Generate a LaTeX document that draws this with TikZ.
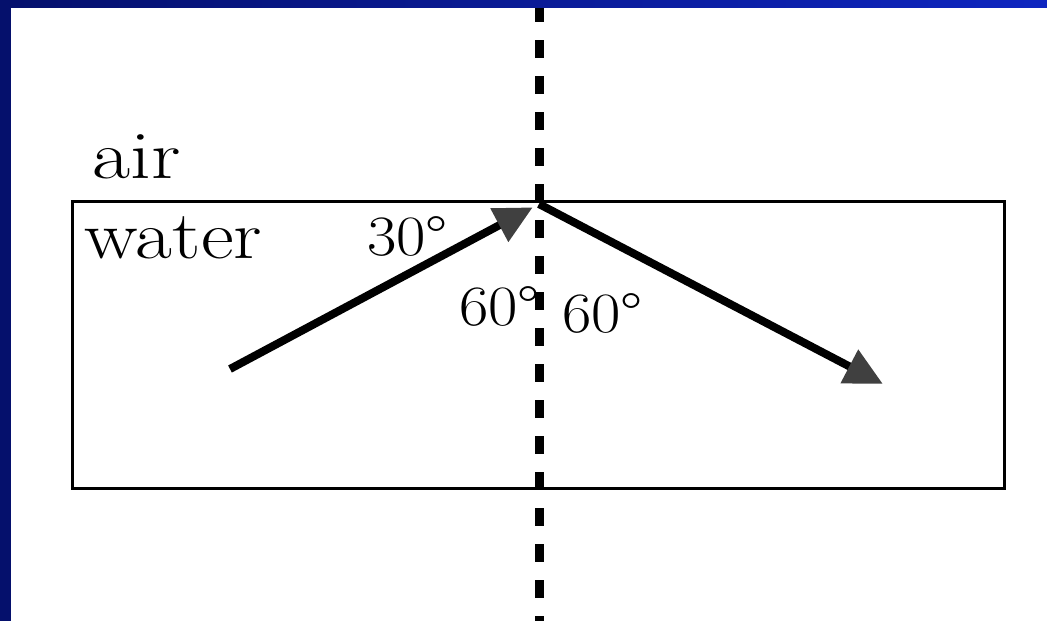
\documentclass[tikz,border=0pt]{standalone}
\usepackage{graphicx}
\usetikzlibrary{arrows.meta}
\definecolor{FrameDark}{HTML}{05106C}
\definecolor{FrameLight}{HTML}{0E26C0}
\definecolor{HeadGrey}{HTML}{404040}
\definecolor{Ink}{HTML}{000000}
\newcommand{\widetext}[2]{\scalebox{#1}[1]{#2}}
\begin{document}
\begin{tikzpicture}[x=1pt,y=-1pt,
    every node/.style={text=Ink,inner sep=0pt,anchor=base west},
    medium/.style={font=\fontsize{68}{72}\selectfont},
    angle/.style={font=\fontsize{57}{60}\selectfont},
    ray/.style={line width=8pt,-{Triangle[length=38pt,width=36pt,color=HeadGrey]}}]
  \useasboundingbox (0,0) rectangle (1047,621);
  \fill[white] (0,0) rectangle (1047,621);

  % Normal line and the water box.
  \draw[line width=9pt,dash pattern=on 18pt off 18pt,dash phase=32pt] (539,0)--(539,621);
  \draw[line width=3pt] (72,201) rectangle (1004,488);

  \node[medium] (air) at (92,178) {\widetext{1.22}{air}};
  \node[medium] (water) at (84,258) {\widetext{1.18}{water}};

  % Incident and reflected rays.
  \coordinate (src) at (230,369);
  \coordinate (hit) at (539,204);
  \coordinate (out) at (883,384);
  \draw[ray,shorten >=7pt] (src)--(hit);
  \draw[ray] (hit)--(out);

  \node[angle] (a30) at (367,255) {\widetext{1.12}{30\textdegree}};
  \node[angle] (a60l) at (459,325) {\widetext{1.12}{60\textdegree}};
  \node[angle] (a60r) at (562,332) {\widetext{1.12}{60\textdegree}};

  % Slide frame.
  \shade[left color=FrameDark,right color=FrameLight] (0,0) rectangle (1047,7);
  \fill[FrameDark] (0,0) rectangle (11,621);
\end{tikzpicture}
\end{document}
